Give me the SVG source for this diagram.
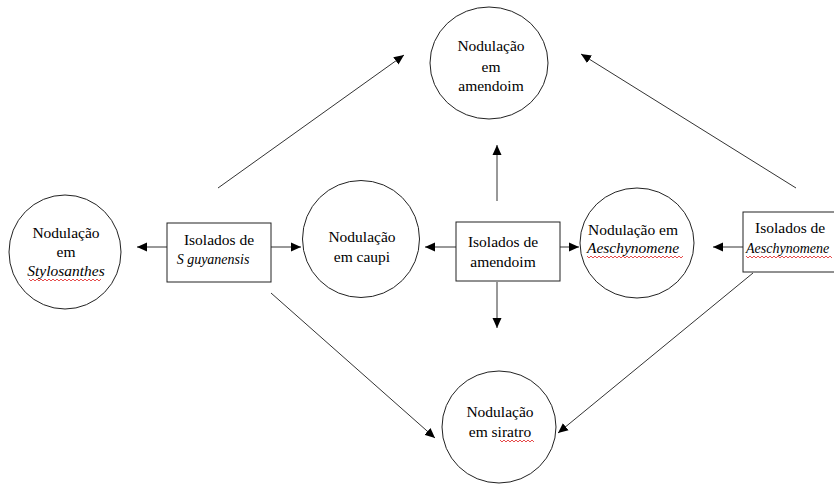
<svg xmlns="http://www.w3.org/2000/svg" width="834" height="484" viewBox="0 0 834 484">
<defs>
<marker id="ah" viewBox="0 0 10 10" refX="10" refY="5" markerWidth="10" markerHeight="10" markerUnits="userSpaceOnUse" orient="auto">
<path d="M0,0.5 L10,5 L0,9.5 Z" fill="#000"/>
</marker>
<style>
.n{fill:#fff;stroke:#222;stroke-width:1}
.t{font-family:'Liberation Serif','Times New Roman',serif;font-size:15.5px;fill:#000;text-anchor:middle}
.i{font-style:italic}
.c{stroke:#333;stroke-width:1;fill:none;marker-end:url(#ah)}
.w{stroke:#e02020;stroke-width:0.8;fill:none}
</style>
</defs>
<rect width="834" height="484" fill="#fff"/>
<g id="connectors">
<line class="c" x1="167" y1="247" x2="137" y2="247"/>
<line class="c" x1="271" y1="247" x2="301" y2="247"/>
<line class="c" x1="456" y1="247" x2="425" y2="247"/>
<line class="c" x1="560" y1="247" x2="579" y2="247"/>
<line class="c" x1="743" y1="247" x2="713" y2="247"/>
<line class="c" x1="497" y1="201" x2="497" y2="145"/>
<line class="c" x1="497" y1="282" x2="497" y2="328"/>
<line class="c" x1="218" y1="188" x2="404" y2="55"/>
<line class="c" x1="796" y1="188" x2="581" y2="54"/>
<line class="c" x1="271" y1="293" x2="435" y2="438"/>
<line class="c" x1="753" y1="273" x2="558" y2="433"/>
</g>
<g id="n-amendoim">
<ellipse class="n" cx="489" cy="63" rx="59" ry="56"/>
<text class="t" x="491" y="51">Nodulação</text>
<text class="t" x="491" y="72">em</text>
<text class="t" x="491" y="91">amendoim</text>
</g>
<g id="n-stylosanthes">
<ellipse class="n" cx="65" cy="252" rx="56" ry="57"/>
<text class="t" x="66" y="238">Nodulação</text>
<text class="t" x="66" y="257">em</text>
<text class="t i" x="66" y="276">Stylosanthes</text>
<path class="w" d="M29,279 l2,2 l2,-2 l2,2 l2,-2 l2,2 l2,-2 l2,2 l2,-2 l2,2 l2,-2 l2,2 l2,-2 l2,2 l2,-2 l2,2 l2,-2 l2,2 l2,-2 l2,2 l2,-2 l2,2 l2,-2 l2,2 l2,-2 l2,2 l2,-2 l2,2 l2,-2 l2,2 l2,-2 l2,2 l2,-2 l2,2 l2,-2 l2,2 l2,-2"/>
</g>
<g id="n-caupi">
<ellipse class="n" cx="361" cy="239" rx="58.5" ry="58.5"/>
<text class="t" x="362" y="242">Nodulação</text>
<text class="t" x="362" y="262">em caupi</text>
</g>
<g id="n-aeschynomene">
<ellipse class="n" cx="637" cy="243" rx="57" ry="55"/>
<text class="t" x="633" y="235">Nodulação em</text>
<text class="t i" x="633" y="253">Aeschynomene</text>
<path class="w" d="M587,256 l2,2 l2,-2 l2,2 l2,-2 l2,2 l2,-2 l2,2 l2,-2 l2,2 l2,-2 l2,2 l2,-2 l2,2 l2,-2 l2,2 l2,-2 l2,2 l2,-2 l2,2 l2,-2 l2,2 l2,-2 l2,2 l2,-2 l2,2 l2,-2 l2,2 l2,-2 l2,2 l2,-2 l2,2 l2,-2 l2,2 l2,-2 l2,2 l2,-2 l2,2 l2,-2 l2,2 l2,-2 l2,2 l2,-2 l2,2 l2,-2 l2,2 l2,-2 l2,2 l2,-2"/>
</g>
<g id="n-siratro">
<ellipse class="n" cx="499" cy="427" rx="57" ry="56"/>
<text class="t" x="500" y="417">Nodulação</text>
<text class="t" x="500" y="437">em siratro</text>
<path class="w" d="M500,440 l2,2 l2,-2 l2,2 l2,-2 l2,2 l2,-2 l2,2 l2,-2 l2,2 l2,-2 l2,2 l2,-2 l2,2 l2,-2 l2,2 l2,-2 l2,2"/>
</g>
<g id="b-guyanensis">
<rect class="n" x="167" y="223" width="104" height="59"/>
<text class="t" x="219" y="245">Isolados de</text>
<text class="t i" x="213" y="264" style="font-size:14px">S guyanensis</text>
</g>
<g id="b-amendoim">
<rect class="n" x="456" y="222" width="104" height="59"/>
<text class="t" x="503" y="247">Isolados de</text>
<text class="t" x="503" y="267">amendoim</text>
</g>
<g id="b-aeschynomene">
<rect class="n" x="743" y="212" width="100" height="60"/>
<text class="t" x="755" y="233" style="text-anchor:start">Isolados de</text>
<text class="t i" x="746" y="253" style="text-anchor:start;font-size:14px">Aeschynomene</text>
<path class="w" d="M746,256 l2,2 l2,-2 l2,2 l2,-2 l2,2 l2,-2 l2,2 l2,-2 l2,2 l2,-2 l2,2 l2,-2 l2,2 l2,-2 l2,2 l2,-2 l2,2 l2,-2 l2,2 l2,-2 l2,2 l2,-2 l2,2 l2,-2 l2,2 l2,-2 l2,2 l2,-2 l2,2 l2,-2 l2,2 l2,-2 l2,2 l2,-2 l2,2 l2,-2 l2,2 l2,-2 l2,2 l2,-2 l2,2 l2,-2 l2,2"/>
</g>
</svg>
